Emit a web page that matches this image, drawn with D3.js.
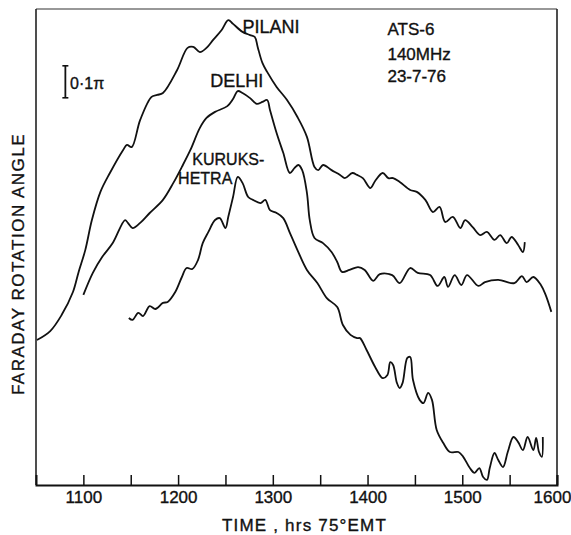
<!DOCTYPE html>
<html>
<head>
<meta charset="utf-8">
<script src="https://cdn.jsdelivr.net/npm/d3@7"></script>
<style>
  body { margin: 0; background: #fff; }
  svg { display: block; }
  text { font-family: "Liberation Sans", Arial, sans-serif; fill: #111; stroke: #111; stroke-width: 0.35px; }
  .curve { fill: none; stroke: #111; stroke-width: 1.8; stroke-linejoin: round; }
</style>
</head>
<body>
<script>
// time in hrs 75 EMT, rotation angle in units of 0.1 pi (arbitrary zero)
let pilaniTime = [1051, 1065, 1077, 1089, 1095, 1102, 1109, 1118, 1128, 1142, 1146, 1151, 1160, 1172, 1178, 1184,
    1199, 1210, 1216, 1223, 1230, 1237, 1246, 1253, 1258, 1268, 1276, 1281, 1284, 1289, 1294, 1304, 1315, 1326,
    1336, 1344, 1348, 1353, 1362, 1371, 1376, 1384, 1389, 1395, 1403, 1408, 1416, 1422, 1427, 1434, 1445, 1452,
    1461, 1469, 1476, 1482, 1490, 1498, 1503, 1511, 1519, 1526, 1534, 1540, 1547, 1552, 1559, 1564, 1566];
let pilaniAngle = [4.53, 4.81, 5.31, 6.03, 6.66, 7.34, 8.28, 9.16, 9.75, 10.47, 10.63, 10.56, 11.41, 12.13, 12.19, 12.25,
    12.97, 13.66, 13.69, 13.53, 13.66, 13.91, 14.22, 14.53, 14.41, 14.16, 14.06, 14.0, 13.69, 13.19, 12.91, 12.44, 12.03, 11.5,
    10.88, 9.94, 9.84, 10.0, 9.84, 9.69, 9.59, 9.75, 9.69, 9.59, 9.28, 9.5, 9.75, 9.59, 9.59, 9.47, 9.22, 9.16,
    8.91, 8.53, 8.69, 8.22, 8.38, 8.03, 8.28, 8.06, 7.81, 7.91, 7.66, 7.81, 7.56, 7.75, 7.5, 7.28, 7.59];

let delhiTime = [1100, 1110, 1120, 1131, 1144, 1147, 1152, 1160, 1170, 1184, 1195, 1204, 1213, 1223, 1230, 1239,
    1252, 1258, 1263, 1268, 1276, 1283, 1289, 1294, 1297, 1304, 1311, 1318, 1323, 1327, 1331, 1336, 1339, 1344,
    1353, 1362, 1368, 1373, 1381, 1390, 1397, 1406, 1413, 1426, 1434, 1445, 1453, 1466, 1474, 1481, 1485, 1492,
    1499, 1505, 1517, 1524, 1538, 1555, 1563, 1568, 1575, 1583, 1588, 1594];
let delhiAngle = [5.94, 6.63, 7.13, 7.56, 8.28, 8.19, 8.03, 8.19, 8.5, 8.91, 9.44, 9.94, 10.47, 11.16, 11.47, 11.66,
    11.84, 12.06, 12.31, 12.25, 12.09, 11.91, 11.97, 12.03, 11.72, 11.0, 10.38, 9.75, 9.91, 10.0, 9.84, 9.13, 8.28, 7.72,
    7.56, 7.28, 6.97, 6.66, 6.72, 6.81, 6.72, 6.38, 6.59, 6.56, 6.31, 6.78, 6.63, 6.56, 6.22, 6.5, 6.19, 6.56,
    6.25, 6.56, 6.22, 6.34, 6.41, 6.31, 6.53, 6.34, 6.5, 6.25, 5.94, 5.41];

let kuruTime = [1148, 1152, 1158, 1163, 1170, 1176, 1184, 1189, 1197, 1204, 1209, 1215, 1221, 1226, 1232, 1239,
    1244, 1250, 1253, 1258, 1263, 1268, 1274, 1279, 1287, 1292, 1297, 1304, 1311, 1318, 1326, 1336, 1347, 1357,
    1368, 1374, 1382, 1389, 1392, 1399, 1408, 1416, 1421, 1424, 1427, 1431, 1434, 1437, 1442, 1445, 1448, 1455,
    1459, 1464, 1468, 1473, 1480, 1487, 1496, 1501, 1508, 1513, 1518, 1522, 1526, 1529, 1534, 1538, 1543, 1548,
    1554, 1559, 1564, 1569, 1575, 1578, 1581, 1584, 1585];
let kuruAngle = [5.22, 5.16, 5.38, 5.28, 5.59, 5.5, 5.69, 5.72, 6.03, 6.5, 6.78, 6.75, 7.03, 7.56, 7.91, 8.28,
    8.34, 8.03, 8.38, 9.0, 9.63, 9.44, 9.0, 8.91, 8.81, 8.91, 8.59, 8.5, 8.34, 7.88, 7.34, 6.72, 6.31, 5.84,
    5.56, 5.0, 4.69, 4.59, 4.59, 4.22, 3.69, 3.34, 3.44, 3.84, 3.75, 3.19, 3.03, 3.19, 3.97, 4.0, 3.28, 2.66,
    2.56, 2.88, 2.66, 1.72, 1.31, 1.03, 1.03, 0.88, 0.53, 0.38, 0.53, 0.25, 0.16, 0.53, 1.0, 0.78, 0.56, 1.03,
    1.5, 1.34, 1.09, 1.5, 1.09, 1.47, 1.03, 0.88, 1.5];

let xTicks = [1100, 1150, 1200, 1250, 1300, 1350, 1400, 1450, 1500, 1550, 1600];

let W = 571, H = 535;
let margin = {top: 9, right: 14, bottom: 50, left: 36};

let x = d3.scaleLinear().domain([1050, 1600]).range([margin.left, W - margin.right]);
let y = d3.scaleLinear().domain([0, 14.875]).range([H - margin.bottom, margin.top]);

let svg = d3.select("body").append("svg")
    .attr("width", W)
    .attr("height", H);

// frame: top side thinner than the axes
svg.append("line")
    .attr("x1", x(1050)).attr("x2", x(1600))
    .attr("y1", y(14.875)).attr("y2", y(14.875))
    .attr("stroke", "#333").attr("stroke-width", 1.2);
svg.append("line")
    .attr("x1", x(1600)).attr("x2", x(1600))
    .attr("y1", y(14.875)).attr("y2", y(0))
    .attr("stroke", "#222").attr("stroke-width", 1.6);
svg.append("line")
    .attr("x1", x(1050)).attr("x2", x(1050))
    .attr("y1", y(14.875)).attr("y2", y(0))
    .attr("stroke", "#222").attr("stroke-width", 1.6);

// bottom axis, ticks pointing inward
let xAxis = svg.append("g")
    .attr("transform", "translate(0," + y(0) + ")")
    .call(d3.axisBottom(x)
        .tickValues(xTicks)
        .tickSize(-10)
        .tickPadding(6)
        .tickFormat(d => d % 100 === 0 ? d : ""));
xAxis.select(".domain").attr("stroke", "#111").attr("stroke-width", 2);
xAxis.selectAll(".tick line").attr("stroke", "#111").attr("stroke-width", 1.5);
xAxis.selectAll(".tick text")
    .style("font-family", null)
    .style("font-size", "17px")
    .attr("fill", "#111");
xAxis.selectAll(".tick text").filter(d => d === 1600).attr("dx", "-5");

// curves
let line = d3.line()
    .x(d => x(d[0]))
    .y(d => y(d[1]))
    .curve(d3.curveCatmullRom.alpha(0.5));

let series = [
    d3.zip(pilaniTime, pilaniAngle),
    d3.zip(delhiTime, delhiAngle),
    d3.zip(kuruTime, kuruAngle)
];

svg.selectAll("path.curve")
    .data(series)
    .enter().append("path")
    .attr("class", "curve")
    .attr("d", line);

// station labels
function label(t, v, str, size) {
    svg.append("text")
        .attr("x", x(t))
        .attr("y", y(v))
        .style("font-size", size + "px")
        .text(str);
}
label(1268, 14.12, "PILANI", 18);
label(1234, 12.44, "DELHI", 18);
label(1215, 10.0, "KURUKS-", 16);
label(1200, 9.42, "HETRA", 16);

label(1421, 14.06, "ATS-6", 17);
label(1421, 13.28, "140MHz", 17);
label(1421, 12.59, "23-7-76", 17);

// 0.1 pi scale bar
let barX = x(1081);
svg.append("line")
    .attr("x1", barX).attr("x2", barX)
    .attr("y1", y(13.1)).attr("y2", y(12.1))
    .attr("stroke", "#111").attr("stroke-width", 1.8);
[13.1, 12.1].forEach(function (v) {
    svg.append("line")
        .attr("x1", barX - 3).attr("x2", barX + 3)
        .attr("y1", y(v)).attr("y2", y(v))
        .attr("stroke", "#111").attr("stroke-width", 1.6);
});
svg.append("text")
    .attr("x", x(1086))
    .attr("y", y(12.38))
    .style("font-size", "16px")
    .text("0·1π");

// axis titles
svg.append("text")
    .attr("x", (x(1050) + x(1600)) / 2 + 8)
    .attr("y", H - 4)
    .style("text-anchor", "middle")
    .style("font-size", "17px")
    .style("letter-spacing", "1.2px")
    .text("TIME , hrs 75°EMT");

svg.append("text")
    .attr("transform", "rotate(-90)")
    .attr("x", -264)
    .attr("y", 24)
    .style("text-anchor", "middle")
    .style("font-size", "17px")
    .style("letter-spacing", "1.5px")
    .text("FARADAY ROTATION ANGLE");
</script>
</body>
</html>
